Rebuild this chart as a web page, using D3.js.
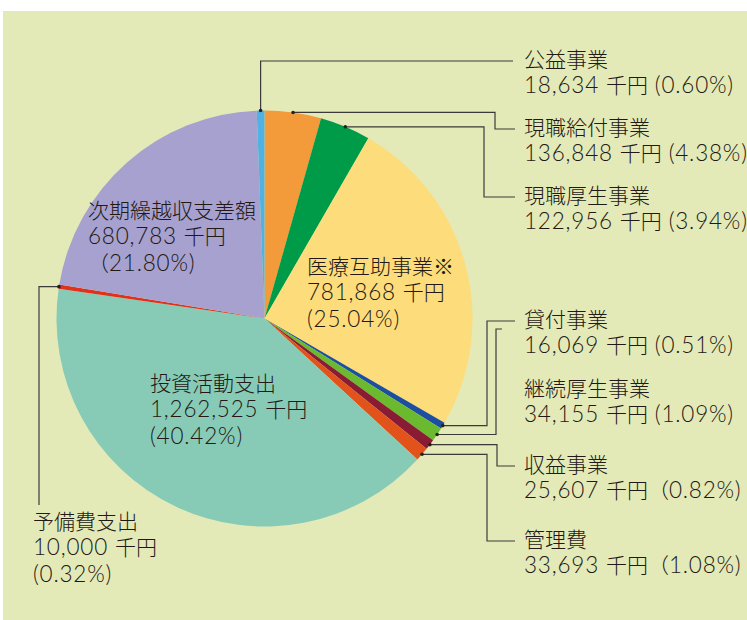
<!DOCTYPE html>
<html>
<head>
<meta charset="utf-8">
<script src="https://cdn.jsdelivr.net/npm/d3@7"></script>
<style>
  html, body { margin: 0; padding: 0; background: #ffffff; }
  svg { display: block; }
  text { font-family: Lato, "Noto Sans CJK JP", sans-serif; font-weight: 300; fill: #231815; }
</style>
</head>
<body>
<svg id="chart" width="747" height="620"></svg>
<script>
// Expenditure breakdown, in thousand yen, clockwise from 12 o'clock
const categories = ["現職給付事業", "現職厚生事業", "医療互助事業※", "貸付事業", "継続厚生事業",
                    "収益事業", "管理費", "投資活動支出", "予備費支出", "次期繰越収支差額", "公益事業"];
const values = [136848, 122956, 781868, 16069, 34155, 25607, 33693, 1262525, 10000, 680783, 18634];
const percentLabels = ["4.38%", "3.94%", "25.04%", "0.51%", "1.09%", "0.82%", "1.08%", "40.42%", "0.32%", "21.80%", "0.60%"];
const colors = ["#f39a3b", "#009b48", "#fddc7b", "#1d4fa0", "#6bb92e", "#891b35", "#e2531b",
                "#87cbb7", "#e2301d", "#a6a1cf", "#4fb2e3"];

const fmt = d3.format(",");

const svg = d3.select("#chart");
const W = 747, H = 620;

// panel background
svg.append("rect").attr("x", 3).attr("y", 11).attr("width", W - 3).attr("height", H - 11)
  .attr("fill", "#e3eab8");

const cx = 264.5, cy = 318.5, R = 208;
const g = svg.append("g").attr("transform", `translate(${cx},${cy})`);

const pie = d3.pie().sort(null).value(d => d).startAngle(0).endAngle(2 * Math.PI);
const arcs = pie(values);
const arc = d3.arc().innerRadius(0).outerRadius(R);

g.selectAll("path.slice").data(arcs).enter().append("path")
  .attr("class", "slice")
  .attr("d", arc)
  .attr("fill", (d, i) => colors[i]);

// point on the rim at the middle of a slice
function rimPoint(i) {
  const a = (arcs[i].startAngle + arcs[i].endAngle) / 2;
  return [cx + R * Math.sin(a), cy - R * Math.cos(a)];
}

const idx = name => categories.indexOf(name);

// Japanese runs are set a little smaller than the Latin digits
const FS_JP = 21, FS_LAT = 22.5, lh = 26.5;
const jpChars = "\u3000-\u30ff\u3400-\u9fff\uff00-\uffef\u203b";
const jpRun = new RegExp(`[${jpChars}]+|[^${jpChars}]+`, "g");
const isJpRun = new RegExp(`[${jpChars}]`);

// one line of a label: separate <text>, split into sized runs
function textLine(x, y, str) {
  const t = svg.append("text").attr("x", x).attr("y", y).attr("dy", "0.35em");
  str.match(jpRun).forEach(run => {
    const jp = isJpRun.test(run);
    t.append("tspan")
      .attr("font-size", jp ? FS_JP : FS_LAT)
      .attr("letter-spacing", jp ? 0 : 0.8)
      .text(run);
  });
  return t;
}

function label(x, y, lines) {
  lines.forEach((s, k) => textLine(x, y + k * lh, s));
}

// outside labels with elbow leaders
const lineX = 515, textX = 524;
const outside = [
  { name: "公益事業", labelY: 61, mode: "up", sep: " (" },
  { name: "現職給付事業", labelY: 129, elbow: 495, sep: " (" },
  { name: "現職厚生事業", labelY: 197, elbow: 484, sep: " (" },
  { name: "貸付事業", labelY: 321, elbow: 487, sep: " (" },
  { name: "継続厚生事業", labelY: 390, elbow: 496, lineY: 329, endX: 502, sep: " (" },
  { name: "収益事業", labelY: 466, elbow: 497, sep: "（" },
  { name: "管理費", labelY: 541, elbow: 487, sep: "（" }
];

const leaders = svg.append("g").attr("fill", "none").attr("stroke", "#3a3a3a").attr("stroke-width", 1.2);
const dots = svg.append("g");

outside.forEach(o => {
  const i = idx(o.name);
  const [px, py] = rimPoint(i);
  let pts;
  if (o.mode === "up") {
    pts = [[px, py], [px, o.labelY], [lineX - 2, o.labelY]];
  } else {
    const ly = o.lineY !== undefined ? o.lineY : o.labelY;
    const ex = o.endX !== undefined ? o.endX : lineX;
    pts = [[px, py], [o.elbow, py], [o.elbow, ly], [ex, ly]];
  }
  leaders.append("path").attr("d", d3.line()(pts));
  dots.append("circle").attr("cx", px).attr("cy", py).attr("r", 1.8).attr("fill", "#222");

  label(textX, o.labelY, [o.name, `${fmt(values[i])} 千円${o.sep}${percentLabels[i]})`]);
});

// 予備費支出: leader goes left and down
{
  const i = idx("予備費支出");
  const [px, py] = rimPoint(i);
  leaders.append("path").attr("d", d3.line()([[px, py], [39, py], [39, 505]]));
  dots.append("circle").attr("cx", px).attr("cy", py).attr("r", 1.8).attr("fill", "#222");
  label(33, 523, [categories[i], `${fmt(values[i])} 千円`, `(${percentLabels[i]})`]);
}

// labels inside the large slices
const inside = [
  { name: "次期繰越収支差額", x: 88, y: 212, open: "（" },
  { name: "医療互助事業※", x: 307, y: 268, open: "(" },
  { name: "投資活動支出", x: 150, y: 385, open: "(" }
];
inside.forEach(o => {
  const i = idx(o.name);
  label(o.x, o.y, [o.name, `${fmt(values[i])} 千円`, `${o.open}${percentLabels[i]})`]);
});
</script>
</body>
</html>
